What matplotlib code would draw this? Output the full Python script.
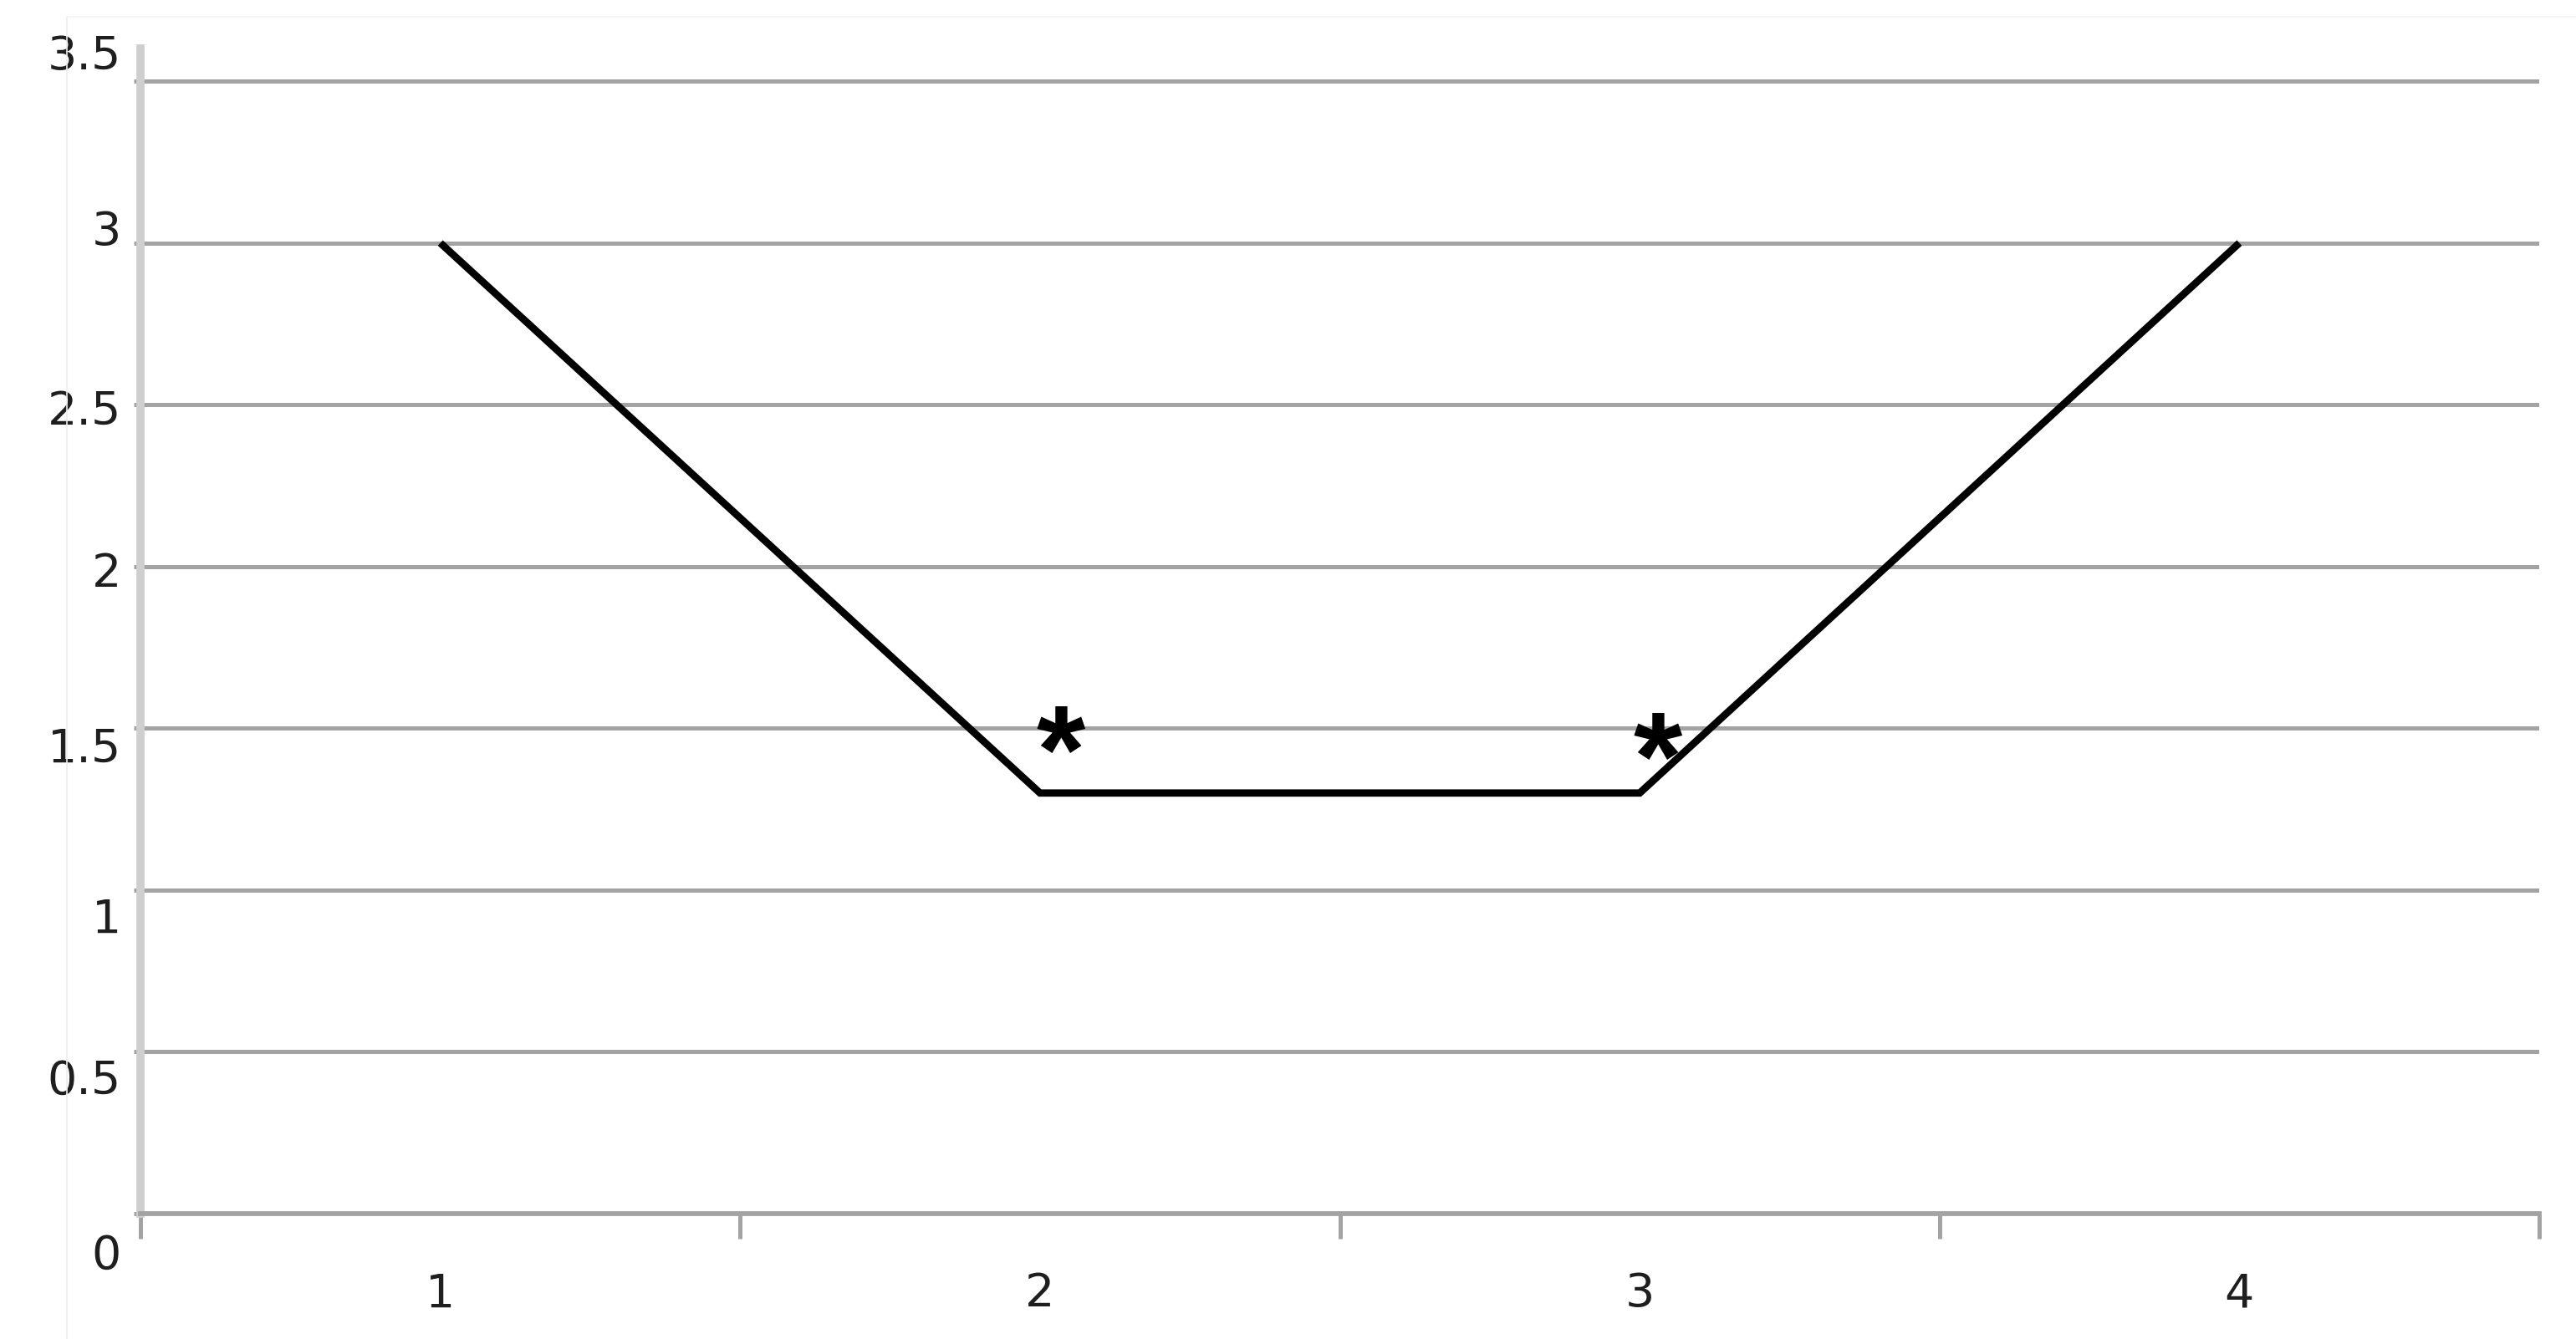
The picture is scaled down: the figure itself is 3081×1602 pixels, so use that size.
import matplotlib
matplotlib.use("Agg")
import matplotlib.pyplot as plt
from matplotlib.transforms import ScaledTranslation
from matplotlib.lines import Line2D

# ---- data ----
categories = ["1", "2", "3", "4"]
values = [3.0, 1.3, 1.3, 3.0]
yticks = [0, 0.5, 1, 1.5, 2, 2.5, 3, 3.5]
ytick_labels = ["0", "0.5", "1", "1.5", "2", "2.5", "3", "3.5"]
star_x = [2.035, 3.03]
star_y = [1.40, 1.38]
star_text = ["*", "*"]

# ---- style ----
plt.rcParams["font.family"] = ["DejaVu Sans"]
GRID = "#a3a3a3"
YSPINE = "#cfcfcf"
TXT = "#1e1e1e"
# small vertical nudges of y tick labels (pixels, downward positive) as seen in reference
ylabel_nudge_px = [45, 29, 30, 19, 3, 3, -19, -35]

fig = plt.figure(figsize=(30.81, 16.02), dpi=100)
ax = fig.add_axes([0.05453, 0.09363, 0.93119, 0.8699])

xpos = list(range(1, len(categories) + 1))
ax.plot(xpos, values, color="black", lw=6.3, solid_joinstyle="miter",
        solid_capstyle="butt", zorder=3)

for sx, sy, st in zip(star_x, star_y, star_text):
    ax.text(sx, sy, st, ha="center", va="center", fontsize=108,
            family=["Liberation Sans", "DejaVu Sans"], fontweight="bold",
            color="black", zorder=4)

ax.set_xlim(0.5, len(categories) + 0.5)
ax.set_ylim(0, 3.6)

# x axis: boundary ticks (major), labels at category centers (minor)
ax.set_xticks([i + 0.5 for i in range(0, len(categories) + 1)])
ax.set_xticklabels([])
ax.set_xticks(xpos, minor=True)
ax.set_xticklabels(categories, minor=True)
ax.tick_params(axis="x", which="major", length=21.5, width=3.6, color=GRID,
               direction="out")
ax.tick_params(axis="x", which="minor", length=0, pad=50, labelsize=40,
               labelcolor=TXT)

# y axis
ax.set_yticks(yticks)
ax.set_yticklabels(ytick_labels)
ax.tick_params(axis="y", which="major", length=5.8, width=3.6, color=GRID,
               pad=10.8, labelsize=40, labelcolor=TXT)
for lab, d in zip(ax.get_yticklabels(), ylabel_nudge_px):
    lab.set_transform(lab.get_transform() +
                      ScaledTranslation(0, -d / 100.0, fig.dpi_scale_trans))

ax.yaxis.grid(True, color=GRID, lw=3.6)
ax.xaxis.grid(False)
ax.set_axisbelow(True)

for s in ["top", "right"]:
    ax.spines[s].set_visible(False)
ax.spines["left"].set_color(YSPINE)
ax.spines["left"].set_linewidth(7)
ax.spines["bottom"].set_color(GRID)
ax.spines["bottom"].set_linewidth(4.2)
ax.spines["left"].set_zorder(2.5)

# faint frame lines of the original picture
fig.add_artist(Line2D([80 / 3081, 80 / 3081], [0, 1 - 20 / 1602],
                      transform=fig.transFigure, color="#ececec", lw=1.2))
fig.add_artist(Line2D([80 / 3081, 1], [1 - 20 / 1602, 1 - 20 / 1602],
                      transform=fig.transFigure, color="#f3f3f3", lw=1.2))

fig.savefig("out.png", dpi=100, facecolor="white")
